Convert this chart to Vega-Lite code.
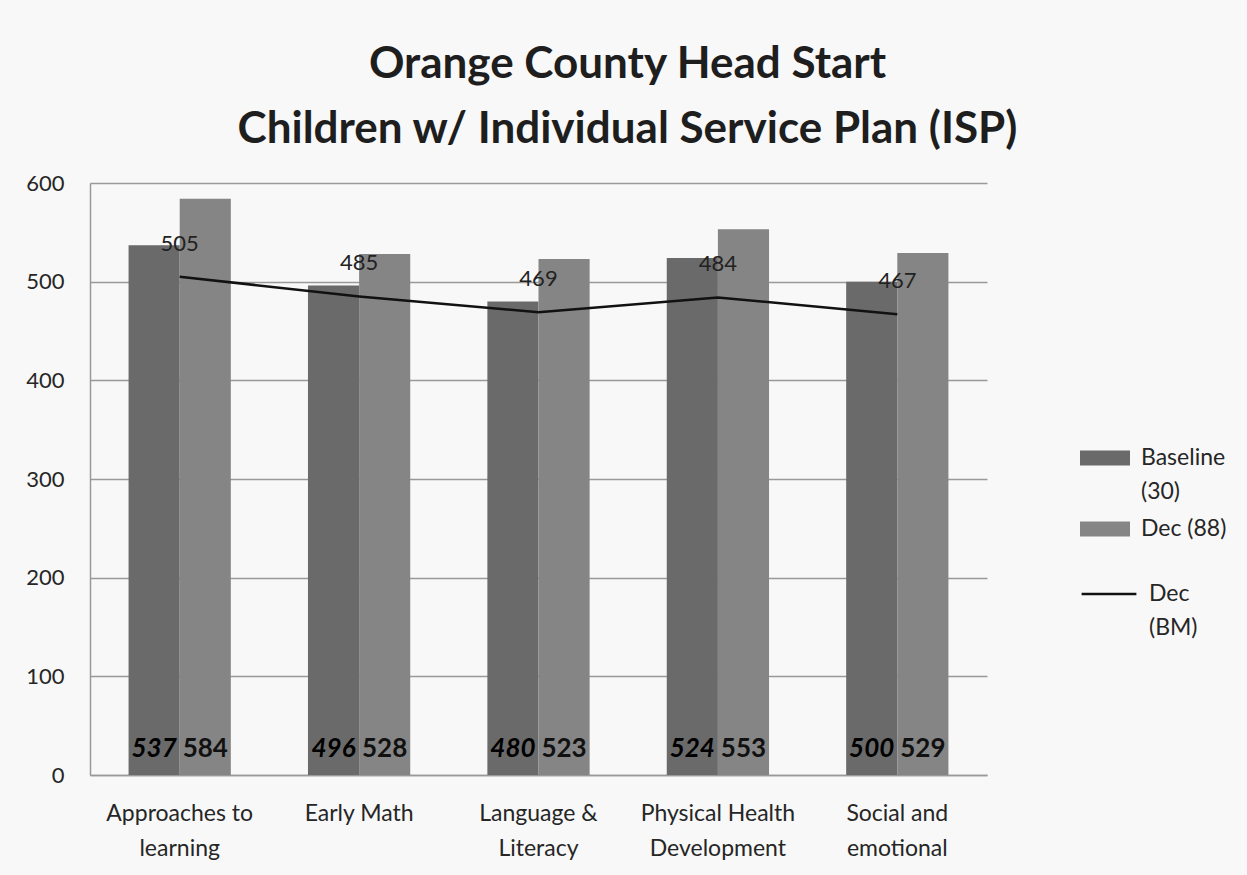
{
  "$schema": "https://vega.github.io/schema/vega-lite/v6.json",
  "width": 897,
  "height": 592,
  "autosize": {"type": "none"},
  "padding": {"left": 90, "top": 183, "right": 260, "bottom": 100},
  "background": "#f8f8f8",
  "config": {"font": "Lato", "view": {"stroke": null}},
  "title": {
    "text": ["Orange County Head Start", "Children w/ Individual Service Plan (ISP)"],
    "fontSize": 44,
    "font": "Lato",
    "fontWeight": "bold",
    "color": "#1e1e1e",
    "lineHeight": 65,
    "anchor": "middle",
    "frame": "group",
    "dx": 89,
    "offset": 20
  },
  "datasets": {
    "bars": [
      {"category": "Approaches to learning", "series": "Baseline (30)", "value": 537},
      {"category": "Approaches to learning", "series": "Dec (88)", "value": 584},
      {"category": "Early Math", "series": "Baseline (30)", "value": 496},
      {"category": "Early Math", "series": "Dec (88)", "value": 528},
      {"category": "Language & Literacy", "series": "Baseline (30)", "value": 480},
      {"category": "Language & Literacy", "series": "Dec (88)", "value": 523},
      {"category": "Physical Health Development", "series": "Baseline (30)", "value": 524},
      {"category": "Physical Health Development", "series": "Dec (88)", "value": 553},
      {"category": "Social and emotional", "series": "Baseline (30)", "value": 500},
      {"category": "Social and emotional", "series": "Dec (88)", "value": 529}
    ],
    "bm": [
      {"category": "Approaches to learning", "value": 505},
      {"category": "Early Math", "value": 485},
      {"category": "Language & Literacy", "value": 469},
      {"category": "Physical Health Development", "value": 484},
      {"category": "Social and emotional", "value": 467}
    ]
  },
  "encoding": {
    "x": {
      "field": "category",
      "type": "nominal",
      "title": null,
      "scale": {
        "domain": ["Approaches to learning", "Early Math", "Language & Literacy", "Physical Health Development", "Social and emotional"],
        "paddingInner": 0.43,
        "paddingOuter": 0.215
      },
      "axis": {
        "labelAngle": 0,
        "labelFontSize": 23,
        "labelColor": "#262626",
        "labelPadding": 27,
        "labelLineHeight": 35,
        "labelBaseline": "top",
        "ticks": false,
        "domainColor": "#999999",
        "domainWidth": 1.5,
        "labelExpr": "datum.label == 'Early Math' ? datum.label : [substring(datum.label, 0, lastindexof(datum.label, ' ')), substring(datum.label, lastindexof(datum.label, ' ') + 1)]"
      }
    }
  },
  "layer": [
    {
      "data": {"name": "bars"},
      "mark": {"type": "bar"},
      "encoding": {
        "xOffset": {"field": "series", "type": "nominal", "scale": {"domain": ["Baseline (30)", "Dec (88)"]}},
        "y": {
          "field": "value",
          "type": "quantitative",
          "title": null,
          "scale": {"domain": [0, 600], "nice": false},
          "axis": {
            "values": [0, 100, 200, 300, 400, 500, 600],
            "labelFontSize": 22,
            "labelColor": "#262626",
            "labelPadding": 26,
            "ticks": false,
            "domain": true,
            "domainColor": "#999999",
            "domainWidth": 1.5,
            "gridColor": "#999999",
            "gridWidth": 1.3
          }
        },
        "color": {
          "field": "series",
          "type": "nominal",
          "scale": {"domain": ["Baseline (30)", "Dec (88)"], "range": ["#6a6a6a", "#858585"]},
          "legend": {
            "title": null,
            "orient": "none",
            "legendX": 990,
            "legendY": 250,
            "symbolType": "M-1,-0.3H1V0.3H-1Z",
            "symbolSize": 2500,
            "symbolStrokeWidth": 0,
            "symbolOpacity": 1,
            "labelFontSize": 23,
            "labelColor": "#262626",
            "labelOffset": 11,
            "rowPadding": -3,
            "labelExpr": "datum.label == 'Dec (88)' ? datum.label : split(datum.label, ' ')",
            "encode": {"labels": {"update": {"lineHeight": {"value": 34}}}}
          }
        }
      }
    },
    {
      "data": {"name": "bars"},
      "transform": [{"filter": "datum.series == 'Baseline (30)'"}],
      "mark": {"type": "text", "fontSize": 26, "fontWeight": "bold", "fontStyle": "italic", "color": "#000000", "baseline": "alphabetic", "dy": -18},
      "encoding": {
        "xOffset": {"field": "series", "type": "nominal"},
        "y": {"datum": 0, "type": "quantitative"},
        "text": {"field": "value", "type": "quantitative"}
      }
    },
    {
      "data": {"name": "bars"},
      "transform": [{"filter": "datum.series == 'Dec (88)'"}],
      "mark": {"type": "text", "fontSize": 26, "fontWeight": "bold", "color": "#111111", "baseline": "alphabetic", "dy": -18},
      "encoding": {
        "xOffset": {"field": "series", "type": "nominal"},
        "y": {"datum": 0, "type": "quantitative"},
        "text": {"field": "value", "type": "quantitative"}
      }
    },
    {
      "data": {"name": "bm"},
      "mark": {"type": "line", "strokeWidth": 2.5},
      "encoding": {
        "y": {"field": "value", "type": "quantitative"},
        "stroke": {
          "datum": "Dec (BM)",
          "type": "nominal",
          "scale": {"range": ["#111111"]},
          "legend": {
            "title": null,
            "orient": "none",
            "legendX": 990,
            "legendY": 382,
            "symbolType": "stroke",
            "symbolSize": 3000,
            "symbolStrokeWidth": 2.5,
            "labelFontSize": 23,
            "labelColor": "#262626",
            "labelOffset": 11,
            "labelExpr": "split(datum.label, ' ')",
            "encode": {"labels": {"update": {"lineHeight": {"value": 34}}}}
          }
        }
      }
    },
    {
      "data": {"name": "bm"},
      "mark": {"type": "text", "fontSize": 22, "color": "#222222", "baseline": "middle", "dy": -33},
      "encoding": {
        "y": {"field": "value", "type": "quantitative"},
        "text": {"field": "value", "type": "quantitative"}
      }
    }
  ]
}
